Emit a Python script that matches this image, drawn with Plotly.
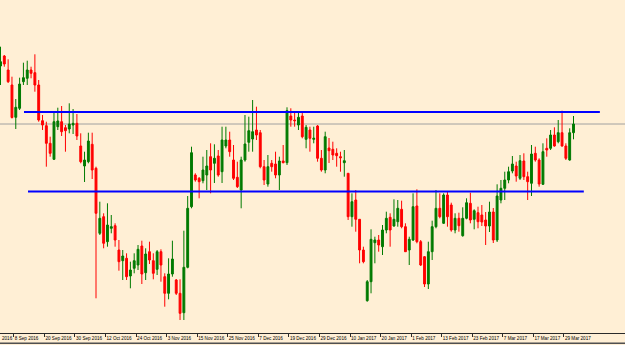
import pandas as pd
import plotly.graph_objects as go

# Daily bars (weekdays) 2 Sep 2016 .. 31 Mar 2017
dates = pd.bdate_range("2016-09-02", "2017-03-31")

open_ = [153.40, 154.40, 153.00, 151.50, 148.27, 149.17, 151.83, 152.17, 153.00, 152.73,
         151.50, 147.93, 147.43, 145.67, 144.07, 147.33, 147.83, 147.23, 147.10, 147.50,
         147.67, 145.40, 143.40, 143.83, 145.57, 143.17, 136.67, 138.33, 135.83, 137.17,
         137.43, 135.00, 133.93, 134.17, 132.40, 133.17, 133.50, 135.40, 132.73, 134.83,
         133.93, 133.07, 134.83, 132.33, 130.67, 132.60, 132.00, 130.67, 128.73, 133.27,
         139.33, 142.50, 142.17, 141.93, 142.50, 144.33, 143.67, 144.40, 142.83, 145.40,
         146.00, 144.00, 142.27, 141.00, 144.00, 145.77, 146.10, 147.00, 146.73, 143.33,
         141.60, 143.67, 143.60, 142.50, 143.90, 143.73, 148.40, 148.00, 147.50, 148.40,
         146.07, 147.00, 146.07, 147.40, 144.17, 143.00, 145.20, 145.07, 144.67, 144.33,
         143.73, 142.67, 138.33, 140.00, 138.07, 135.00, 129.93, 131.83, 135.73, 136.00,
         135.33, 137.00, 138.27, 137.40, 137.83, 139.07, 137.33, 135.00, 136.00, 139.40,
         135.83, 134.33, 131.60, 134.83, 137.33, 139.17, 137.67, 140.50, 139.50, 137.00,
         138.17, 136.43, 138.17, 139.67, 138.07, 138.73, 138.50, 138.00, 137.40, 138.80,
         136.00, 140.00, 141.17, 142.00, 142.90, 143.40, 142.17, 143.90, 142.33, 141.67,
         144.67, 144.00, 141.57, 145.17, 145.17, 146.50, 145.83, 146.73, 145.40, 144.00,
         146.73]

high = [155.33, 154.50, 154.07, 152.33, 150.10, 152.23, 153.73, 153.93, 153.33, 154.57,
        152.00, 148.50, 147.83, 146.33, 148.73, 149.23, 149.40, 147.50, 149.67, 149.10,
        148.60, 146.67, 144.83, 146.73, 146.73, 143.33, 139.83, 138.67, 139.67, 138.50,
        137.67, 136.00, 135.00, 134.67, 133.83, 134.67, 135.50, 135.93, 135.17, 135.83,
        134.67, 135.00, 135.07, 132.67, 134.17, 135.93, 132.10, 132.07, 136.93, 140.40,
        145.33, 142.67, 142.30, 144.33, 145.00, 145.67, 145.57, 145.00, 147.33, 147.33,
        146.83, 145.50, 143.83, 144.33, 148.50, 148.33, 150.00, 149.33, 147.00, 144.00,
        144.50, 144.00, 144.83, 144.33, 145.50, 149.27, 149.17, 148.73, 148.73, 148.83,
        147.50, 147.33, 147.33, 147.50, 145.00, 146.83, 146.20, 145.83, 145.17, 144.83,
        145.00, 142.67, 140.67, 141.00, 138.07, 135.33, 132.00, 137.07, 136.33, 136.50,
        137.50, 138.83, 138.67, 140.07, 140.00, 139.93, 137.67, 136.33, 140.67, 141.07,
        136.00, 134.40, 135.83, 137.93, 141.00, 140.67, 140.67, 140.83, 139.73, 138.67,
        138.73, 139.27, 140.17, 140.73, 139.07, 139.33, 139.50, 138.80, 139.83, 139.20,
        141.57, 142.00, 142.83, 143.33, 144.40, 143.83, 144.50, 144.67, 142.83, 145.50,
        145.33, 144.17, 145.67, 146.17, 147.00, 147.27, 148.00, 148.93, 145.67, 147.17,
        148.40]

low = [151.50, 153.33, 151.70, 148.15, 147.10, 149.00, 151.50, 151.50, 152.17, 150.83,
       147.83, 147.00, 143.33, 144.33, 144.00, 147.00, 146.40, 144.83, 146.67, 146.60,
       146.00, 143.67, 141.80, 143.67, 142.10, 130.17, 136.50, 135.17, 135.33, 136.67,
       135.33, 132.93, 132.00, 132.00, 131.17, 132.67, 133.00, 131.60, 132.00, 133.60,
       132.07, 132.50, 131.83, 129.33, 130.07, 132.33, 130.50, 128.00, 128.00, 133.17,
       139.17, 141.83, 140.17, 141.67, 141.00, 140.67, 141.70, 142.33, 141.70, 145.17,
       144.33, 142.00, 141.20, 139.17, 143.83, 144.83, 144.83, 146.00, 143.17, 141.50,
       141.33, 142.83, 142.17, 141.00, 143.67, 143.50, 147.33, 147.33, 147.00, 146.17,
       145.17, 144.83, 145.67, 143.83, 142.83, 142.67, 143.70, 144.00, 143.33, 142.83,
       142.33, 138.00, 137.33, 136.83, 133.67, 133.67, 129.83, 130.67, 133.67, 134.83,
       134.50, 136.67, 135.33, 137.33, 137.33, 137.17, 134.80, 133.50, 135.90, 135.67,
       133.40, 131.30, 131.10, 134.00, 137.17, 138.17, 137.60, 137.33, 136.83, 136.67,
       136.83, 136.33, 138.07, 137.67, 137.07, 137.17, 137.40, 135.50, 136.80, 135.70,
       135.80, 139.67, 140.00, 141.67, 142.67, 141.83, 142.00, 142.00, 140.00, 140.40,
       143.83, 141.33, 141.50, 144.33, 145.00, 145.33, 145.67, 145.33, 144.00, 143.93,
       146.07]

close = [153.83, 153.60, 151.83, 148.25, 149.27, 151.60, 152.23, 153.00, 152.67, 151.50,
         148.00, 147.50, 145.67, 144.67, 147.83, 147.90, 146.83, 146.93, 147.60, 147.67,
         146.40, 143.83, 144.00, 145.90, 143.00, 138.67, 138.17, 135.67, 137.50, 137.33,
         136.00, 133.83, 134.40, 132.33, 133.00, 133.93, 135.07, 132.60, 134.60, 134.00,
         132.67, 134.83, 133.50, 130.67, 132.60, 134.10, 130.67, 128.67, 133.27, 139.17,
         144.73, 142.00, 141.83, 143.00, 143.40, 143.00, 144.17, 142.50, 146.00, 146.00,
         144.83, 142.17, 141.33, 144.00, 145.60, 146.93, 146.83, 146.50, 143.33, 142.00,
         143.33, 143.33, 142.50, 143.90, 143.73, 148.93, 148.00, 147.93, 148.27, 146.33,
         147.27, 146.17, 146.17, 144.17, 143.00, 146.33, 144.93, 144.50, 144.43, 144.23,
         143.93, 138.33, 139.83, 138.07, 135.00, 133.83, 131.83, 136.07, 136.00, 135.50,
         137.00, 138.17, 137.00, 138.07, 139.17, 137.33, 134.83, 136.07, 139.33, 135.83,
         133.50, 131.60, 134.83, 137.33, 139.17, 138.33, 140.50, 138.33, 137.00, 138.17,
         137.43, 138.17, 139.73, 138.00, 138.93, 137.83, 137.80, 137.40, 138.80, 136.00,
         140.40, 141.17, 142.00, 142.83, 143.60, 142.40, 143.93, 142.33, 141.83, 144.60,
         144.00, 141.60, 144.83, 145.00, 146.50, 145.40, 146.73, 145.40, 144.17, 146.73,
         147.60]

# Horizontal levels drawn on the chart (price)
levels = [148.80, 140.85]
level_spans = [(6.15, 156.9), (7.2, 152.7)]  # in bar-index units

x = list(range(len(dates)))
label_idx = list(range(4, len(dates), 8))
tick_text = [f"{d.day} {d.strftime('%b %Y')}" for d in dates[label_idx]]
tick_pos = [i - 0.5 for i in label_idx]
# the label before the first one runs off the left edge; only its year shows
prev_label_date = dates[0] - pd.offsets.BDay(4)
prev_label_tail = str(prev_label_date.year)

X_RANGE = [-0.131, 163.48]

BG = "#FFEFD5"
GREEN = "#007A00"
RED = "#FF0000"
AXIS = "#2A2A2A"
FONT = dict(family="Liberation Sans, Arial, sans-serif", size=4.6, color="#000000")

fig = go.Figure()
fig.add_trace(go.Candlestick(
    x=x, open=open_, high=high, low=low, close=close,
    increasing=dict(line=dict(color=GREEN, width=1), fillcolor=GREEN),
    decreasing=dict(line=dict(color=RED, width=1), fillcolor=RED),
    whiskerwidth=0, text=[d.strftime("%d %b %Y") for d in dates], hoverinfo="text+y",
))

shapes = []
for lvl, (x0, x1) in zip(levels, level_spans):
    shapes.append(dict(type="line", xref="x", yref="y", x0=x0, x1=x1, y0=lvl, y1=lvl,
                       line=dict(color="#0000FF", width=2), layer="above"))
# current price (bid) line at last close
shapes.append(dict(type="line", xref="paper", yref="y", x0=0, x1=1, y0=close[-1], y1=close[-1],
                   line=dict(color="#A0A0A0", width=1), layer="below"))
# bottom frame line
shapes.append(dict(type="line", xref="paper", yref="paper", x0=0, x1=1, y0=-0.031, y1=-0.031,
                   line=dict(color="#505050", width=1.5)))

fig.update_layout(
    width=625, height=345,
    margin=dict(l=0, r=0, t=0, b=12, autoexpand=False),
    paper_bgcolor=BG, plot_bgcolor=BG,
    showlegend=False,
    boxgap=0.3,
    shapes=shapes,
    annotations=[dict(x=0, xref="paper", y=-0.006, yref="paper", text=prev_label_tail,
                      showarrow=False, xanchor="left", yanchor="top", xshift=0.5,
                      borderpad=0, font=FONT)],
    xaxis=dict(
        range=X_RANGE, rangeslider=dict(visible=False),
        showgrid=False, zeroline=False, automargin=False,
        showline=True, linecolor=AXIS, linewidth=1,
        ticks="outside", ticklen=3, tickcolor=AXIS, tickwidth=1, tickangle=0,
        tickmode="array", tickvals=tick_pos, ticktext=tick_text,
        ticklabelposition="outside right", tickfont=FONT,
    ),
    yaxis=dict(range=[126.7, 160.0], visible=False, showgrid=False, zeroline=False, fixedrange=True),
)

fig.write_html("out.html")
